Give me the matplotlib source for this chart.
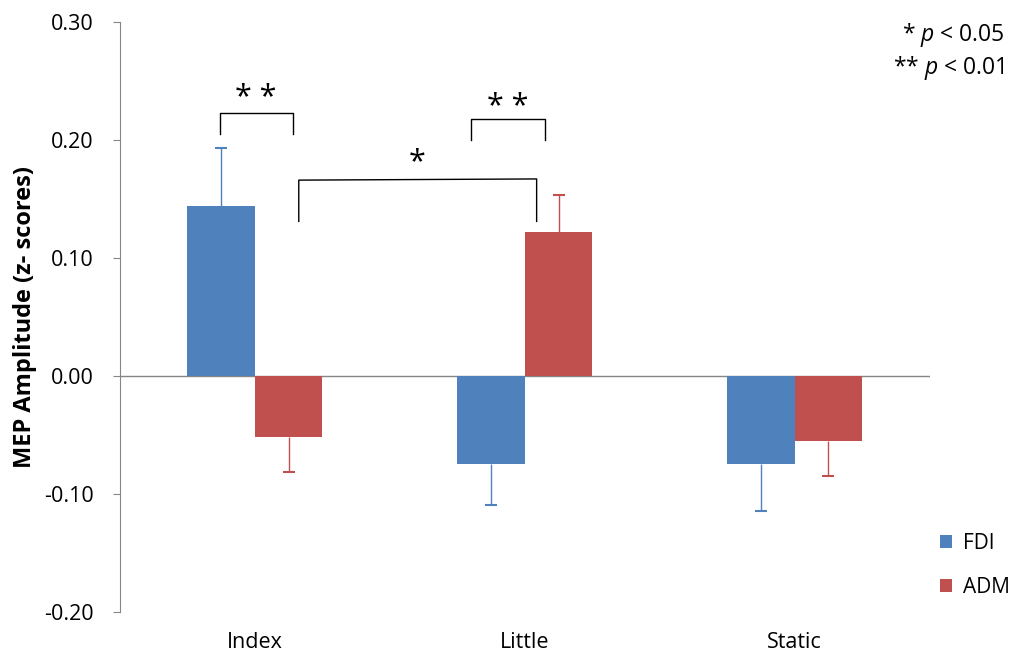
import matplotlib
matplotlib.use("Agg")
import matplotlib.pyplot as plt
import numpy as np

plt.rcParams["font.family"] = ["Open Sans", "DejaVu Sans"]
plt.rcParams["mathtext.fontset"] = "custom"
plt.rcParams["mathtext.it"] = "Open Sans:italic"
plt.rcParams["mathtext.rm"] = "Open Sans"

# data
categories = ["Index", "Little", "Static"]
fdi_means = [0.144, -0.075, -0.075]
fdi_err = [0.049, 0.034, 0.039]
adm_means = [-0.052, 0.122, -0.055]
adm_err = [0.029, 0.031, 0.030]
yticks = [-0.20, -0.10, 0.00, 0.10, 0.20, 0.30]

BLUE = "#4F81BD"
RED = "#C0504D"
GRAY = "#868686"

fig = plt.figure(figsize=(10.15, 6.57), dpi=100)
ax = fig.add_axes([0.118, 0.0685, 0.798, 0.898])

x = np.arange(len(categories))
w = 0.25


def draw_errors(xs, means, errs, color):
    # error bar only in the direction away from zero, cap at the far end
    ends = [m + e if m >= 0 else m - e for m, e in zip(means, errs)]
    ax.vlines(xs, means, ends, color=color, lw=1, zorder=3)
    ax.plot(xs, ends, ls="none", marker="_", ms=8, mew=1.5, color=color, zorder=3)


ax.bar(x - w / 2, fdi_means, w, color=BLUE, label="FDI", zorder=2)
ax.bar(x + w / 2, adm_means, w, color=RED, label="ADM", zorder=2)
draw_errors(x - w / 2, fdi_means, fdi_err, BLUE)
draw_errors(x + w / 2, adm_means, adm_err, RED)

ax.set_xlim(-0.5, 2.5)
ax.set_ylim(-0.20, 0.30)
ax.set_yticks(yticks)
ax.set_yticklabels([f"{t:.2f}" for t in yticks], fontsize=15.5)
ax.tick_params(axis="y", direction="out", length=5, color=GRAY, pad=14)
ax.set_xticks([])
ax.axhline(0, color=GRAY, lw=1, zorder=1)
for s in ["top", "right", "bottom"]:
    ax.spines[s].set_visible(False)
ax.spines["left"].set_color(GRAY)

for xi, c in zip(x, categories):
    ax.text(xi, -0.2255, c, ha="center", va="center", fontsize=15.5)

ax.set_ylabel("MEP Amplitude (z- scores)", fontsize=17, fontweight="bold")
ax.yaxis.set_label_coords((-0.118 * 810 + 13) / 810, 0.5)

# significance brackets
def bracket(x0, x1, ytop, ybot, label, ylab):
    ax.plot([x0, x0, x1, x1], [ybot, ytop, ytop, ybot], color="black", lw=1, zorder=4)
    ax.text((x0 + x1) / 2, ylab, label, ha="center", va="center", fontsize=22)

bracket(-0.13, 0.14, 0.223, 0.205, "* *", 0.236)
bracket(0.80, 1.074, 0.218, 0.200, "* *", 0.228)
ax.plot([0.163, 0.163, 1.044, 1.044], [0.131, 0.166, 0.167, 0.131], color="black", lw=1, zorder=4)
ax.text(0.60, 0.181, "*", ha="center", va="center", fontsize=22)

fig.text(0.990, 0.947, r"* $\it{p}$ < 0.05", ha="right", va="center", fontsize=16.5)
fig.text(0.990, 0.896, r"** $\it{p}$ < 0.01", ha="right", va="center", fontsize=16.5)

leg = ax.legend(loc="center left", bbox_to_anchor=(1.0 + 10 / 810, 46.5 / 590), frameon=False,
                fontsize=15, handlelength=0.6, handleheight=0.6, labelspacing=1.1,
                handletextpad=0.5, borderpad=0, borderaxespad=0)

fig.savefig("out.png", dpi=100)
